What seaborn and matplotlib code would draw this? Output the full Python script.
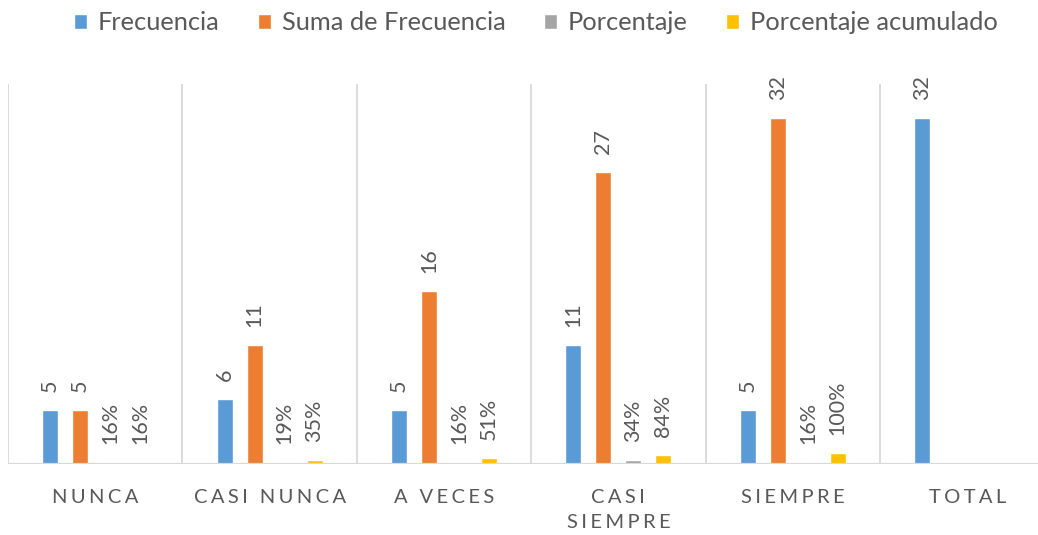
import numpy as np
import pandas as pd
import matplotlib.pyplot as plt
import seaborn as sns

# --- Data ---
categories = ["NUNCA", "CASI NUNCA", "A VECES", "CASI\nSIEMPRE", "SIEMPRE", "TOTAL"]
series = ["Frecuencia", "Suma de Frecuencia", "Porcentaje", "Porcentaje acumulado"]
frecuencia = [5, 6, 5, 11, 5, 32]
suma_frecuencia = [5, 11, 16, 27, 32, np.nan]
porcentaje = [0.16, 0.19, 0.16, 0.34, 0.16, np.nan]
porcentaje_acum = [0.16, 0.35, 0.51, 0.84, 1.00, np.nan]
colors = ["#5B9BD5", "#ED7D31", "#A5A5A5", "#FFC000"]
TXT = "#595959"

values = [frecuencia, suma_frecuencia, porcentaje, porcentaje_acum]
rows = []
for name, vals in zip(series, values):
    for cat, v in zip(categories, vals):
        rows.append({"Categoria": cat, "Serie": name, "Valor": v})
df = pd.DataFrame(rows)

sns.set_theme(style="white")
plt.rcParams["font.family"] = ["Lato", "DejaVu Sans"]

fig = plt.figure(figsize=(10.38, 5.35), dpi=100)
ax = fig.add_axes([8 / 1038, 71 / 535, 6 * 174.4 / 1038, 380 / 535])

sns.barplot(data=df, x="Categoria", y="Valor", hue="Serie",
            order=categories, hue_order=series, palette=colors,
            width=0.688, gap=0.47, saturation=1, ax=ax)

# data labels, rotated like the Excel chart
for cont, name, vals in zip(ax.containers, series, values):
    for bar in cont:
        if bar is None:
            continue
        xc = bar.get_x() + bar.get_width() / 2
        v = vals[int(round(xc))]
        if np.isnan(v):
            continue
        label = f"{v:.0%}" if name.startswith("Porcentaje") else f"{int(v)}"
        ax.annotate(label, (xc, bar.get_height()), xytext=(0, 13),
                    textcoords="offset points", rotation=90,
                    ha="center", va="bottom", fontsize=15.5, color=TXT)

ax.set_ylim(0, 35.1)
ax.set_xlim(-0.5, 5.5)
for x in np.arange(-0.5, 6, 1):
    ax.axvline(x, color="#D9D9D9", lw=1.3, zorder=0)
ax.axhline(0, color="#D9D9D9", lw=1.6, zorder=1)

for s in ax.spines.values():
    s.set_visible(False)
ax.set_yticks([])
ax.set_xlabel("")
ax.set_ylabel("")


def spaced(label):
    # Excel-style letter spacing on the category axis
    return "\n".join("\u2006".join(line) for line in label.split("\n"))


ax.set_xticks(range(len(categories)))
ax.set_xticklabels([spaced(c) for c in categories], fontsize=14.5,
                   color=TXT, linespacing=1.55)
ax.tick_params(axis="x", length=0, pad=18)

handles, lbls = ax.get_legend_handles_labels()
ax.legend(handles, lbls, loc="center",
          bbox_to_anchor=(0.5 + 17 / 1038, 1 - 23 / 535),
          bbox_transform=fig.transFigure, ncol=4, frameon=False,
          fontsize=18.3, labelcolor=TXT, handlelength=0.5, handleheight=0.5,
          handletextpad=0.45, columnspacing=1.5)

fig.savefig("out.png", dpi=100)
